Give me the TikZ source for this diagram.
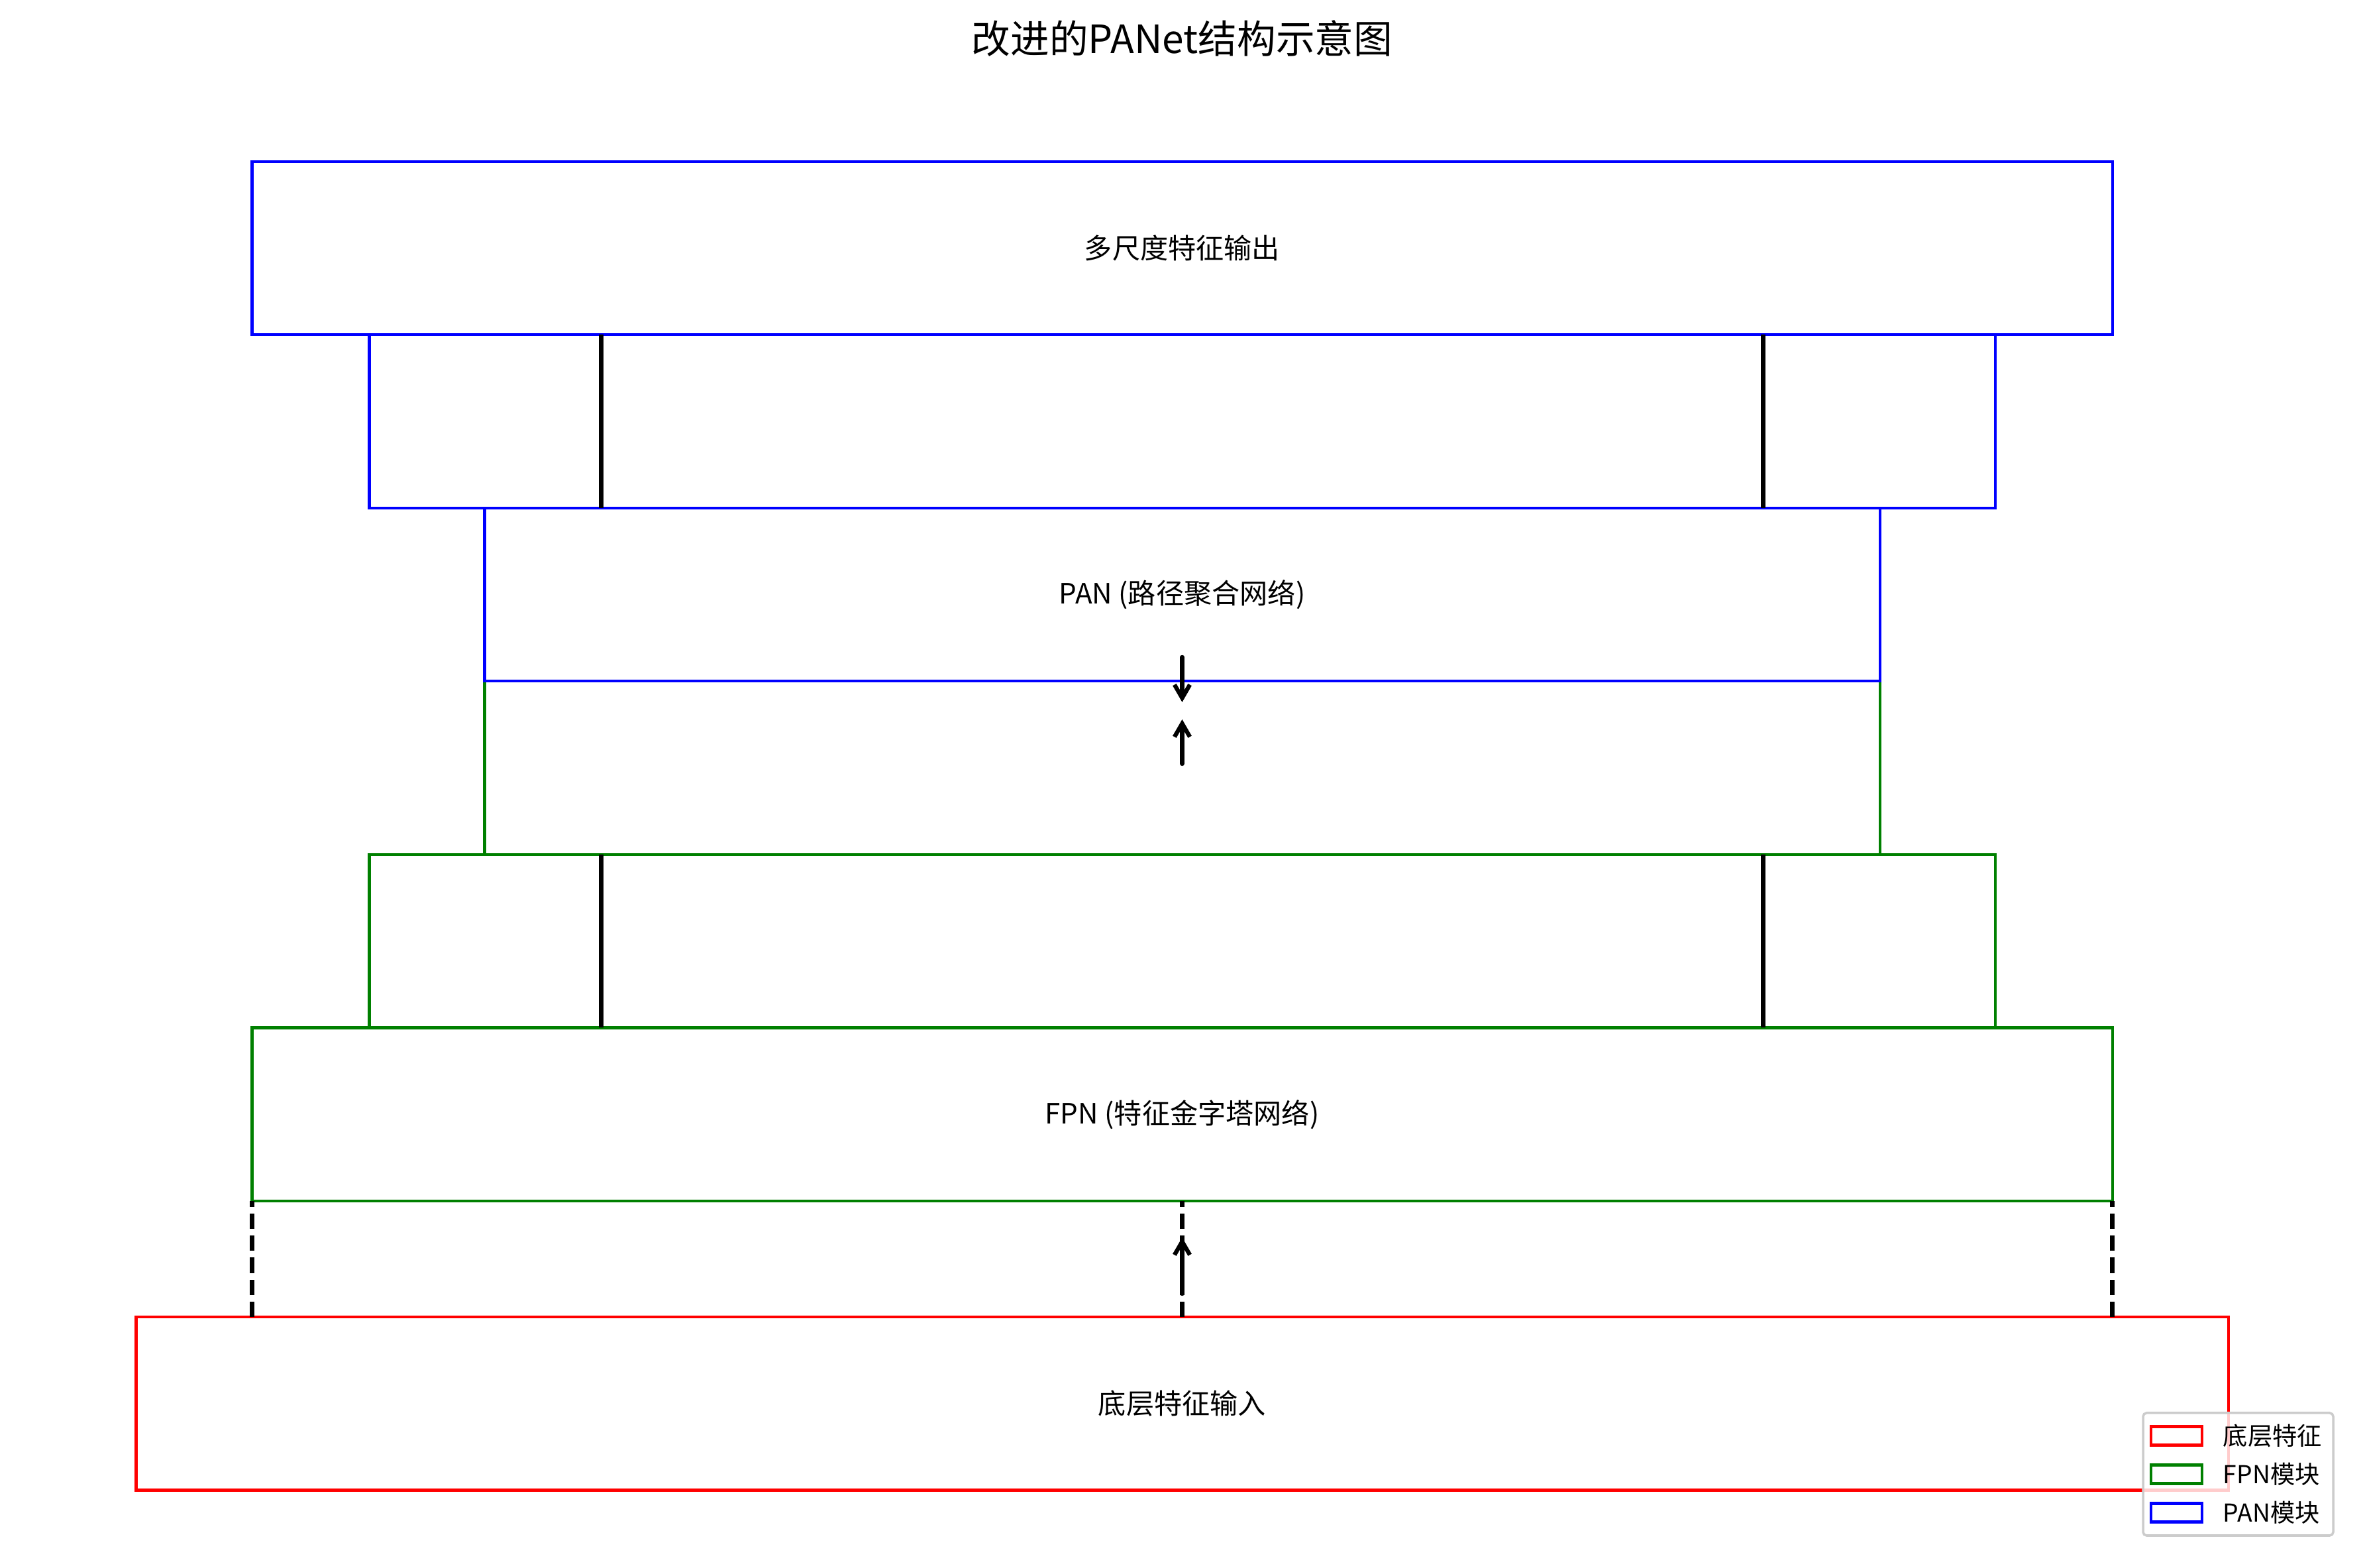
\documentclass[tikz,border=0pt]{standalone}
\usepackage{fontspec}
\newfontfamily\cjk{Noto Sans CJK SC}
\usetikzlibrary{arrows.meta, positioning}
\definecolor{fpngreen}{HTML}{008000}
\definecolor{framegray}{HTML}{CCCCCC}

\begin{document}
\begin{tikzpicture}[>={Straight Barb[length=5.7pt, width=6.6pt]},
  box/.style={draw, rectangle, line width=1.15pt, inner sep=0pt, outer sep=0pt,
    minimum height=2.615cm, font=\cjk\fontsize{12}{14}\selectfont},
  link/.style={line width=1.8pt},
  flow/.style={->, line width=1.8pt, line cap=round},
  skipline/.style={line width=1.8pt, dash pattern=on 6.6pt off 2.85pt},
  patch/.style={draw, line width=1.15pt, minimum width=0.77cm, minimum height=0.28cm,
    inner sep=0pt, outer sep=0pt},
  legtext/.style={inner sep=0pt, font=\cjk\fontsize{10.6}{12}\selectfont}]
  \useasboundingbox (0,0) rectangle (35.7,23.67);
  % Title
  \node[font=\cjk\fontsize{16.7}{19}\selectfont] (title) at (17.845,23.09) {改进的PANet结构示意图};
  % Bottom input
  \node[box, draw=red, minimum width=31.58cm] (in) at (17.845,2.4825) {底层特征输入};
  % FPN levels
  \node[box, draw=fpngreen, minimum width=28.08cm, above=1.75cm of in] (fpn) {FPN (特征金字塔网络)};
  \node[box, draw=fpngreen, minimum width=24.54cm, above=0pt of fpn] (fpn2) {};
  \node[box, draw=fpngreen, minimum width=21.06cm, above=0pt of fpn2] (fpn3) {};
  % PAN levels
  \node[box, draw=blue, minimum width=21.06cm, above=0pt of fpn3] (pan) {PAN (路径聚合网络)};
  \node[box, draw=blue, minimum width=24.54cm, above=0pt of pan] (pan2) {};
  \node[box, draw=blue, minimum width=28.08cm, above=0pt of pan2] (out) {多尺度特征输出};
  % Lateral links
  \draw[link] ([xshift=-8.77cm]pan2.north) -- ([xshift=-8.77cm]pan2.south);
  \draw[link] ([xshift=8.77cm]pan2.north) -- ([xshift=8.77cm]pan2.south);
  \draw[link] ([xshift=-8.77cm]fpn2.north) -- ([xshift=-8.77cm]fpn2.south);
  \draw[link] ([xshift=8.77cm]fpn2.north) -- ([xshift=8.77cm]fpn2.south);
  % Top-down / bottom-up flow
  \draw[flow] ([yshift=0.365cm]pan.south) -- ([yshift=-0.315cm]pan.south);
  \draw[flow] ([yshift=-1.245cm]pan.south) -- ([yshift=-0.575cm]pan.south);
  % Input to FPN
  \draw[skipline] (fpn.south west |- in.north) -- (fpn.south west);
  \draw[skipline] (in.north) -- (fpn.south);
  \draw[skipline] (fpn.south east |- in.north) -- (fpn.south east);
  \draw[flow] ([yshift=0.35cm]in.north) -- ([yshift=-0.55cm]fpn.south);
  % Legend
  \node[draw=framegray, fill=white, fill opacity=0.8, rounded corners=1.5pt, line width=1pt,
    minimum width=2.87cm, minimum height=1.85cm] (legend) at (33.785,1.415) {};
  \node[patch, draw=red] (lgin) at ([xshift=0.525cm, yshift=0.58cm]legend.west) {};
  \node[patch, draw=fpngreen, below=0.30cm of lgin] (lgfpn) {};
  \node[patch, draw=blue, below=0.30cm of lgfpn] (lgpan) {};
  \node[legtext, right=0.31cm of lgin] (txin) {底层特征};
  \node[legtext, right=0.31cm of lgfpn] (txfpn) {FPN模块};
  \node[legtext, right=0.31cm of lgpan] (txpan) {PAN模块};
\end{tikzpicture}
\end{document}
